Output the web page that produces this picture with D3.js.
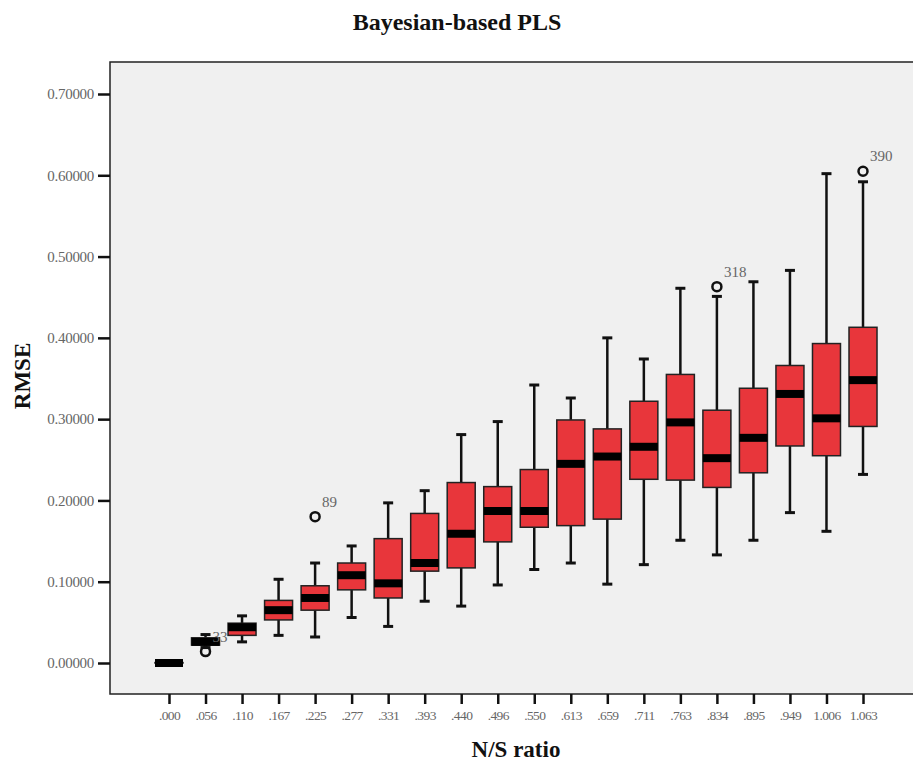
<!DOCTYPE html>
<html>
<head>
<meta charset="utf-8">
<script src="https://cdn.jsdelivr.net/npm/d3@7"></script>
<style>
  body { margin: 0; background: #fff; }
  svg { display: block; }
</style>
</head>
<body>
<div id="chart"></div>
<script>
// N/S ratio categories and box statistics (RMSE)
const categories = [".000", ".056", ".110", ".167", ".225", ".277", ".331", ".393", ".440", ".496",
  ".550", ".613", ".659", ".711", ".763", ".834", ".895", ".949", "1.006", "1.063"];
const whiskerLow = [0, 0.019, 0.026, 0.034, 0.032, 0.056, 0.045, 0.076, 0.070, 0.096,
  0.115, 0.123, 0.097, 0.121, 0.151, 0.133, 0.151, 0.185, 0.162, 0.232];
const q1 = [0, 0.022, 0.034, 0.053, 0.065, 0.090, 0.080, 0.113, 0.117, 0.149,
  0.167, 0.169, 0.177, 0.226, 0.225, 0.216, 0.234, 0.267, 0.255, 0.291];
const median = [0, 0.026, 0.044, 0.065, 0.080, 0.108, 0.098, 0.123, 0.159, 0.187,
  0.187, 0.245, 0.254, 0.266, 0.296, 0.252, 0.277, 0.331, 0.301, 0.348];
const q3 = [0.0005, 0.031, 0.049, 0.077, 0.095, 0.123, 0.153, 0.184, 0.222, 0.217,
  0.238, 0.299, 0.288, 0.322, 0.355, 0.311, 0.338, 0.366, 0.393, 0.413];
const whiskerHigh = [0, 0.035, 0.058, 0.103, 0.123, 0.144, 0.197, 0.212, 0.281, 0.297,
  0.342, 0.326, 0.400, 0.374, 0.461, 0.451, 0.469, 0.483, 0.602, 0.592];
const outlierCats = [".056", ".225", ".834", "1.063"];
const outlierVals = [0.014, 0.180, 0.463, 0.605];
const outlierLabels = ["33", "89", "318", "390"];
const yTicks = [0, 0.1, 0.2, 0.3, 0.4, 0.5, 0.6, 0.7];

const width = 913, height = 767;
const plot = {left: 110, top: 62, right: 922, bottom: 694};

const svg = d3.select("#chart").append("svg")
  .attr("width", width).attr("height", height);

// plot area
svg.append("rect")
  .attr("x", plot.left).attr("y", plot.top)
  .attr("width", plot.right - plot.left).attr("height", plot.bottom - plot.top)
  .attr("fill", "#f0f0f0")
  .attr("stroke", "#222").attr("stroke-width", 1.5);

let x = d3.scalePoint()
  .domain(categories)
  .range([plot.left, plot.right])
  .padding(1.615);

let y = d3.scaleLinear()
  .domain([0, 0.7])
  .range([663, 94]);

/* axes */
const yAxis = svg.append("g")
  .attr("transform", `translate(${plot.left},0)`)
  .call(d3.axisLeft(y).tickValues(yTicks).tickFormat(d3.format(".5f")).tickSize(12).tickPadding(4));
yAxis.select(".domain").remove();
yAxis.selectAll(".tick line").attr("stroke", "#111").attr("stroke-width", 2.5);
yAxis.selectAll(".tick text")
  .attr("fill", "#666")
  .style("font-family", "'Liberation Serif', 'DejaVu Serif', serif")
  .style("font-size", "15px")
  .style("letter-spacing", "-0.3px");

const xAxis = svg.append("g")
  .attr("transform", `translate(0,${plot.bottom})`)
  .call(d3.axisBottom(x).tickSize(10).tickPadding(6));
xAxis.select(".domain").remove();
xAxis.selectAll(".tick line").attr("stroke", "#111").attr("stroke-width", 2.5);
xAxis.selectAll(".tick text")
  .attr("fill", "#666")
  .style("font-family", "'Liberation Serif', 'DejaVu Serif', serif")
  .style("font-size", "13.5px")
  .style("letter-spacing", "-0.6px");

// titles
svg.append("text")
  .attr("x", 457).attr("y", 30)
  .attr("text-anchor", "middle")
  .style("font-family", "'Liberation Serif', serif")
  .style("font-weight", "bold")
  .style("font-size", "24px")
  .attr("fill", "#111")
  .text("Bayesian-based PLS");

svg.append("text")
  .attr("x", (plot.left + plot.right) / 2).attr("y", 757)
  .attr("text-anchor", "middle")
  .style("font-family", "'Liberation Serif', serif")
  .style("font-weight", "bold")
  .style("font-size", "23px")
  .attr("fill", "#111")
  .text("N/S ratio");

svg.append("text")
  .attr("transform", `translate(30,376) rotate(-90)`)
  .attr("text-anchor", "middle")
  .style("font-family", "'Liberation Serif', serif")
  .style("font-weight", "bold")
  .style("font-size", "23px")
  .attr("fill", "#111")
  .text("RMSE");

/* boxes */
const boxW = 28, capW = 10;
const boxes = categories.map((c, i) => ({
  cat: c, lo: whiskerLow[i], q1: q1[i], med: median[i], q3: q3[i], hi: whiskerHigh[i]
}));

const g = svg.append("g");
const box = g.selectAll("g.box").data(boxes).join("g").attr("class", "box");

// whiskers
box.filter(d => d.hi > d.q3).append("line")
  .attr("x1", d => x(d.cat)).attr("x2", d => x(d.cat))
  .attr("y1", d => y(d.q3)).attr("y2", d => y(d.hi))
  .attr("stroke", "#111").attr("stroke-width", 2.5);
box.filter(d => d.lo < d.q1).append("line")
  .attr("x1", d => x(d.cat)).attr("x2", d => x(d.cat))
  .attr("y1", d => y(d.q1)).attr("y2", d => y(d.lo))
  .attr("stroke", "#111").attr("stroke-width", 2.5);
box.filter(d => d.hi > d.q3).append("line")
  .attr("x1", d => x(d.cat) - capW / 2).attr("x2", d => x(d.cat) + capW / 2)
  .attr("y1", d => y(d.hi)).attr("y2", d => y(d.hi))
  .attr("stroke", "#111").attr("stroke-width", 3);
box.filter(d => d.lo < d.q1).append("line")
  .attr("x1", d => x(d.cat) - capW / 2).attr("x2", d => x(d.cat) + capW / 2)
  .attr("y1", d => y(d.lo)).attr("y2", d => y(d.lo))
  .attr("stroke", "#111").attr("stroke-width", 3);

// box body
box.append("rect")
  .attr("x", d => x(d.cat) - boxW / 2)
  .attr("y", d => y(d.q3))
  .attr("width", boxW)
  .attr("height", d => y(d.q1) - y(d.q3))
  .attr("fill", "#e8363b")
  .attr("stroke", "#222").attr("stroke-width", 1.5);

// median band
box.append("line")
  .attr("x1", d => x(d.cat) - boxW / 2).attr("x2", d => x(d.cat) + boxW / 2)
  .attr("y1", d => y(d.med)).attr("y2", d => y(d.med))
  .attr("stroke", "#000").attr("stroke-width", 8);

/* outliers */
const outliers = outlierCats.map((c, i) => ({cat: c, v: outlierVals[i], label: outlierLabels[i]}));
g.selectAll("circle.out").data(outliers).join("circle")
  .attr("class", "out")
  .attr("cx", d => x(d.cat)).attr("cy", d => y(d.v))
  .attr("r", 4.5)
  .attr("fill", "none")
  .attr("stroke", "#111").attr("stroke-width", 2.5);
g.selectAll("text.outlab").data(outliers).join("text")
  .attr("class", "outlab")
  .attr("x", d => x(d.cat) + 7).attr("y", d => y(d.v) - 10)
  .attr("fill", "#666")
  .style("font-family", "'Liberation Serif', serif")
  .style("font-size", "15px")
  .text(d => d.label);
</script>
</body>
</html>
